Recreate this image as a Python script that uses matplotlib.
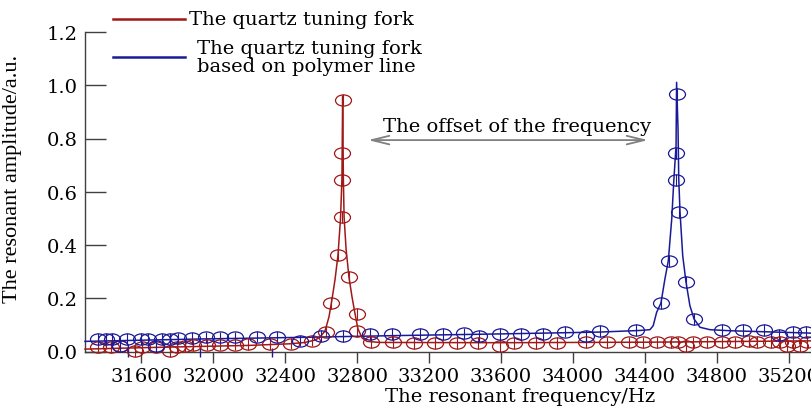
import matplotlib
matplotlib.use("Agg")
import matplotlib.pyplot as plt
import numpy as np
from matplotlib.path import Path
from matplotlib.transforms import Affine2D
from matplotlib.lines import Line2D

# ---------------- data ----------------
red_x = [31362, 31433, 31483, 31566, 31605, 31683, 31761, 31800, 31844, 31889,
         31965, 32039, 32122, 32196, 32316, 32433, 32551, 32628, 32655, 32694,
         32716, 32716, 32716, 32720, 32757, 32800, 32800, 32878, 32998, 33117,
         33233, 33354, 33474, 33595, 33672, 33795, 33911, 34072, 34191, 34313,
         34391, 34465, 34543, 34585, 34628, 34669, 34743, 34826, 34903, 34980,
         35023, 35098, 35150, 35187, 35224, 35262, 35300]
red_y = [0.018, 0.018, 0.022, 0.001, 0.018, 0.018, 0.002, 0.018, 0.021, 0.023,
         0.026, 0.026, 0.026, 0.027, 0.028, 0.030, 0.041, 0.075, 0.182, 0.362,
         0.504, 0.645, 0.746, 0.946, 0.279, 0.141, 0.078, 0.035, 0.035, 0.032,
         0.032, 0.032, 0.032, 0.020, 0.032, 0.032, 0.032, 0.034, 0.034, 0.034,
         0.034, 0.034, 0.034, 0.034, 0.020, 0.034, 0.034, 0.034, 0.034, 0.038,
         0.036, 0.037, 0.037, 0.020, 0.037, 0.020, 0.037]

blue_x = [31362, 31403, 31440, 31483, 31520, 31600, 31640, 31681, 31718, 31761,
          31803, 31881, 31959, 32039, 32122, 32242, 32354, 32483, 32600, 32720,
          32872, 32993, 33150, 33276, 33394, 33476, 33595, 33711, 33832, 33956,
          34072, 34150, 34350, 34489, 34534, 34571, 34571, 34580, 34589, 34630,
          34673, 34828, 34945, 35062, 35145, 35223, 35295]
blue_y = [0.047, 0.047, 0.047, 0.022, 0.047, 0.047, 0.047, 0.022, 0.047, 0.047,
          0.049, 0.051, 0.053, 0.053, 0.053, 0.056, 0.056, 0.041, 0.059, 0.057,
          0.066, 0.066, 0.066, 0.066, 0.068, 0.057, 0.066, 0.066, 0.066, 0.075,
          0.059, 0.077, 0.081, 0.182, 0.341, 0.645, 0.746, 0.967, 0.523, 0.262,
          0.122, 0.082, 0.082, 0.082, 0.063, 0.072, 0.072]

red_fit_x = [31288, 31650, 31927, 32205, 32428, 32511, 32566, 32594, 32622, 32644,
             32661, 32678, 32694, 32708, 32716, 32720, 32724, 32728, 32739, 32755,
             32772, 32789, 32805, 32828, 32855, 32928, 33595, 34428, 35323]
red_fit_y = [0.009, 0.015, 0.019, 0.023, 0.029, 0.034, 0.043, 0.054, 0.077, 0.130,
             0.197, 0.272, 0.362, 0.498, 0.648, 0.960, 0.648, 0.505, 0.385, 0.280,
             0.205, 0.141, 0.085, 0.051, 0.038, 0.034, 0.033, 0.035, 0.040]

blue_fit_x = [31288, 31927, 32483, 33039, 33595, 34150, 34372, 34428, 34446, 34465,
              34489, 34511, 34530, 34549, 34561, 34573, 34576, 34584, 34588, 34595,
              34610, 34628, 34650, 34673, 34706, 34761, 34873, 35323]
blue_fit_y = [0.038, 0.047, 0.053, 0.060, 0.066, 0.073, 0.079, 0.082, 0.097, 0.147,
              0.182, 0.272, 0.341, 0.498, 0.648, 0.773, 1.011, 0.836, 0.648, 0.524,
              0.360, 0.262, 0.172, 0.122, 0.091, 0.082, 0.078, 0.069]

blue_marks_x = [31529, 31927, 32326]

x_ticks = [31600, 32000, 32400, 32800, 33200, 33600, 34000, 34400, 34800, 35200]
y_ticks = [0.0, 0.2, 0.4, 0.6, 0.8, 1.0, 1.2]
y_tick_labels = ["0.0", "0.2", "0.4", "0.6", "0.8", "1.0", "1.2"]

legend_red = "The quartz tuning fork"
legend_blue = "The quartz tuning fork\nbased on polymer line"
offset_text = "The offset of the frequency"
arrow_x = [32861, 34417]
arrow_y = 0.794
offset_text_pos = (33689, 0.847)

# ---------------- style ----------------
RED = "#A01818"
BLUE = "#1A1A98"
AX_COLOR = "#404040"
plt.rcParams["font.family"] = ["DejaVu Serif"]
plt.rcParams["font.size"] = 14

W, H = 811, 410
fig = plt.figure(figsize=(W / 100, H / 100), dpi=100)
ax = fig.add_axes([85 / W, 57.5 / H, 726 / W, 319.5 / H])
ax.set_xlim(31288, 35323)
ax.set_ylim(0, 1.2)

ellipse = Path.unit_circle().transformed(Affine2D().scale(1.0, 0.7))
err = 0.022

for xs, ys, fx, fy, c in [(red_x, red_y, red_fit_x, red_fit_y, RED),
                          (blue_x, blue_y, blue_fit_x, blue_fit_y, BLUE)]:
    ax.plot(fx, fy, color=c, lw=1.1, clip_on=False, zorder=3)
    ys_a = np.array(ys)
    ax.vlines(xs, ys_a - err, ys_a + err, color=c, lw=0.8, clip_on=False, zorder=3)
    ax.plot(xs, ys, ls="none", marker=ellipse, ms=11.5, mfc="none", mec=c,
            mew=0.9, clip_on=False, zorder=4)

ax.vlines(blue_marks_x, -0.021, 0.013, color=BLUE, lw=1.0, clip_on=False, zorder=3)

# arrow + text
ax.annotate("", xy=(arrow_x[0], arrow_y), xytext=(arrow_x[1], arrow_y),
            arrowprops=dict(arrowstyle="<->, head_length=0.9, head_width=0.22",
                            color="#808080", lw=1.3, shrinkA=0, shrinkB=0))
ax.text(offset_text_pos[0], offset_text_pos[1], offset_text, ha="center", va="center")

# axes styling
for s in ["top", "right"]:
    ax.spines[s].set_visible(False)
for s in ["left", "bottom"]:
    ax.spines[s].set_color(AX_COLOR)
    ax.spines[s].set_linewidth(1.0)
ax.set_xticks(x_ticks)
ax.set_xticklabels([str(t) for t in x_ticks])
ax.set_yticks(y_ticks)
ax.set_yticklabels(y_tick_labels)
ax.tick_params(axis="y", direction="in", length=15, width=1, color=AX_COLOR, pad=5)
ax.tick_params(axis="x", direction="out", length=8, width=1, color=AX_COLOR, pad=3)

ax.set_xlabel("The resonant frequency/Hz", va="center")
ax.xaxis.set_label_coords(0.599, -0.139)
ax.set_ylabel("The resonant amplitude/a.u.", family="Liberation Serif", fontsize=16)
ax.yaxis.set_label_coords(-0.087, 0.543)

# legend (manual)
fig.add_artist(Line2D([113 / W, 185 / W], [1 - 20 / H] * 2, color=RED, lw=1.8,
                      transform=fig.transFigure))
fig.text(189 / W, 1 - 20 / H, legend_red, va="center", ha="left")
fig.add_artist(Line2D([113 / W, 185 / W], [1 - 58 / H] * 2, color=BLUE, lw=1.8,
                      transform=fig.transFigure))
fig.text(197 / W, 1 - 58 / H, legend_blue, va="center", ha="left", linespacing=1.0)

fig.savefig("out.png", dpi=100)
